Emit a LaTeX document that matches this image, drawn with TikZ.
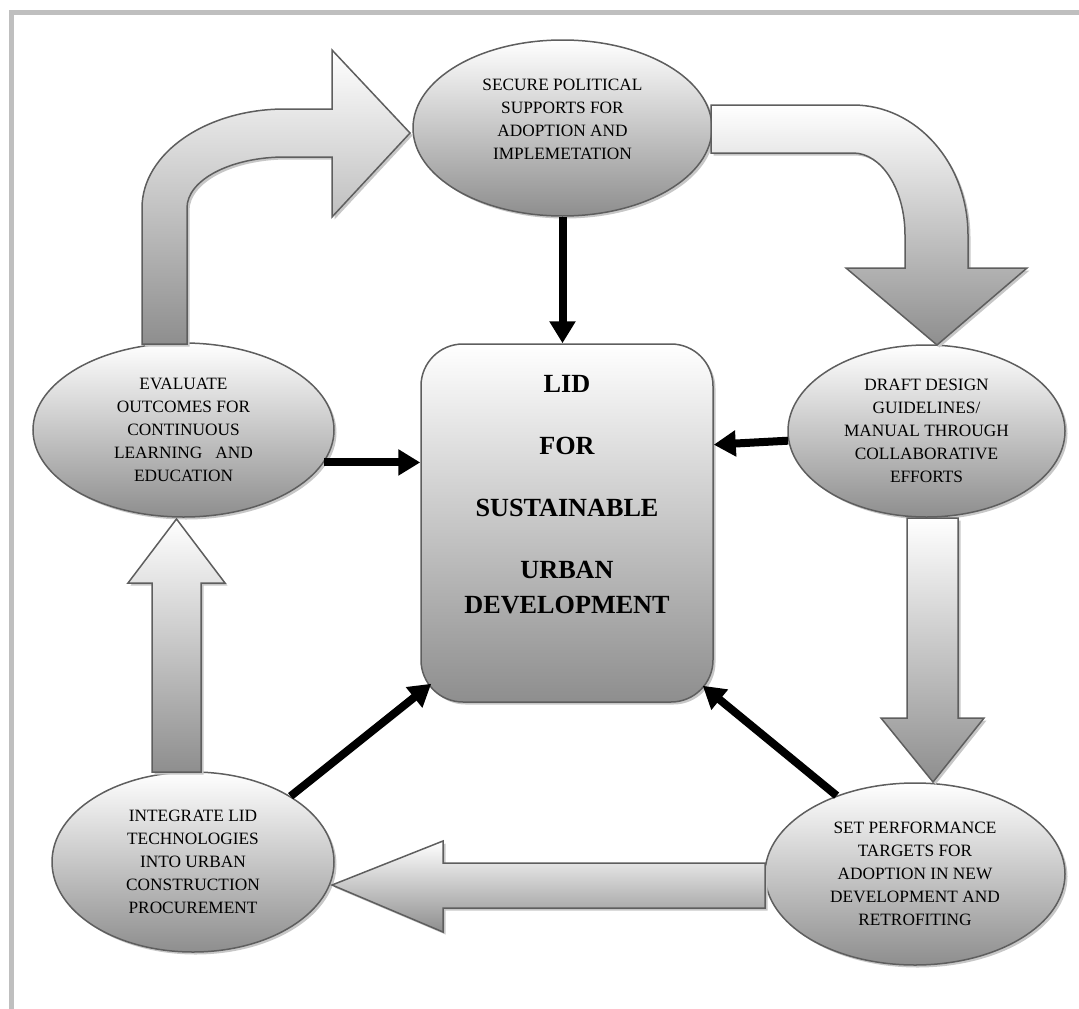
\documentclass[tikz,border=0pt]{standalone}
\usepackage{fontspec}
\setmainfont{Liberation Serif}
\usepackage{tikz}
\usetikzlibrary{shapes,arrows.meta,shadows,calc,positioning}

\definecolor{shadebot}{HTML}{8E8E8E}
\definecolor{edge}{HTML}{5E5E5E}
\definecolor{framegray}{HTML}{BFBFBF}

\tikzstyle{softshadow} = [drop shadow={shadow xshift=2.5pt, shadow yshift=-2.5pt, fill=black!22, opacity=1}]
\tikzstyle{stagetext} = [align=center, inner sep=0pt, font=\fontsize{17.3}{23}\selectfont]
\tikzstyle{stage} = [ellipse, inner sep=0pt, draw=edge, line width=1.5pt, top color=white, bottom color=shadebot, softshadow, stagetext]
\tikzstyle{hub} = [rectangle, rounded corners=42pt, minimum width=292pt, minimum height=358pt, draw=edge, line width=1.5pt, top color=white, bottom color=shadebot, softshadow]
\tikzstyle{hubtext} = [align=center, inner sep=0pt, font=\fontsize{26.2}{35}\selectfont\bfseries]
\tikzstyle{link} = [line width=8pt, -{Triangle[length=22pt, width=25pt]}]
\tikzstyle{bigarrow} = [draw=edge, line width=1.5pt, line join=miter, top color=white, bottom color=shadebot, softshadow]
\tikzstyle{frame} = [draw=framegray, line width=5pt]

\begin{document}
\begin{tikzpicture}[x=1pt, y=-1pt]
  \useasboundingbox (0,0) rectangle (1079,1009);
  \draw[frame] (11,1009) -- (11,12) -- (1079,12);

  % the five stages round the hub
  \node[stage, minimum width=299pt, minimum height=176pt](secure) at (562.5,128){};
  \node[stage, minimum width=301pt, minimum height=174pt](evaluate) at (183.5,430)
    {EVALUATE\\OUTCOMES FOR\\CONTINUOUS\\LEARNING\ \ \ AND\\EDUCATION};
  \node[stage, minimum width=277pt, minimum height=172pt](draft) at (926.5,431)
    {DRAFT DESIGN\\GUIDELINES/\\MANUAL THROUGH\\COLLABORATIVE\\EFFORTS};
  \node[stage, minimum width=282pt, minimum height=180pt](integrate) at (193,862)
    {INTEGRATE LID\\TECHNOLOGIES\\INTO URBAN\\CONSTRUCTION\\PROCUREMENT};
  \node[stage, minimum width=300pt, minimum height=182pt](targets) at (915,874)
    {SET PERFORMANCE\\TARGETS FOR\\ADOPTION IN NEW\\DEVELOPMENT AND\\RETROFITING};
  \node[stagetext](securetext) at ([yshift=8.5pt]secure.center)
    {SECURE POLITICAL\\SUPPORTS FOR\\ADOPTION AND\\IMPLEMETATION};

  \node[hub](lid) at (567,523){};
  \node[hubtext](lidtext) at ([yshift=28pt]lid.center)
    {LID\\[27pt]FOR\\[27pt]SUSTAINABLE\\[27pt]URBAN\\DEVELOPMENT};

  % big shaded arrows of the cycle
  \draw[bigarrow] (142,344) -- (142,208)
    arc[start angle=180, end angle=90, x radius=143pt, y radius=99pt]
    -- (332,109) -- (332,50) -- (410,133) -- (332,217) -- (332,157) -- (285,157)
    arc[start angle=90, end angle=180, x radius=98pt, y radius=51pt]
    -- (187,344) -- cycle;
  \draw[bigarrow] (711,105) -- (853,105)
    arc[start angle=90, end angle=0, x radius=115pt, y radius=130pt]
    -- (968,268) -- (1027,268) -- (937,345) -- (846,268) -- (905,268) -- (905,235)
    arc[start angle=0, end angle=90, x radius=52pt, y radius=82pt]
    -- (711,153) -- cycle;
  \draw[bigarrow] (907,518) -- (958,518) -- (958,718) -- (984,718) -- (933,782)
    -- (881,718) -- (907,718) -- cycle;
  \draw[bigarrow] (765,863) -- (765,908) -- (443,908) -- (443,932) -- (332,885)
    -- (443,841) -- (443,863) -- cycle;
  \draw[bigarrow] (152,772) -- (152,583) -- (128,583) -- (176.5,519) -- (225,583)
    -- (201,583) -- (201,772) -- cycle;

  % every stage feeds the hub
  \draw[link](secure.south) -- (secure.south |- lid.north);
  \draw[link](evaluate.347) -- (evaluate.347 -| lid.west);
  \draw[link](draft.184) -- ($(draft.184 -| lid.east)+(0,4)$);
  \draw[link](integrate.34.5) -- ($(lid.south west)+(11,-19)$);
  \draw[link](targets.135.7) -- ($(lid.south east)+(-11,-17)$);
\end{tikzpicture}
\end{document}
